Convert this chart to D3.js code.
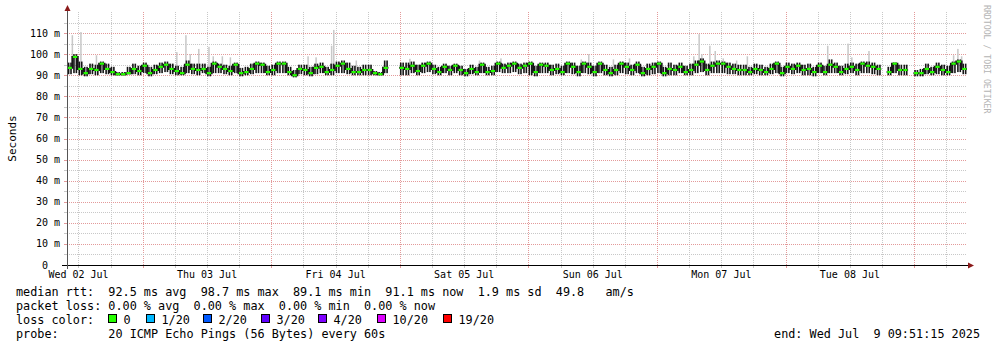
<!doctype html>
<html lang="en">
<head>
<meta charset="UTF-8" />
<title>smokeping median rtt</title>
<script src="https://cdn.jsdelivr.net/npm/d3@7/dist/d3.min.js"></script>
<style>
  body { margin: 0; background: #fff; }
  text { font-family: "DejaVu Sans Mono", monospace; white-space: pre; }
  .grid line { shape-rendering: crispEdges; }
</style>
</head>
<body>
<div id="graph"></div>
<script>
// time range of the graph (one value per hour, rrd style)
var startTime = new Date(Date.UTC(2025, 6, 2, 9, 51, 15));
var endTime = new Date(Date.UTC(2025, 6, 9, 9, 51, 15));

// median rtt in ms, hourly, null = no data
var median = [
  93.5, 98.7, 93, 91, 93, 92.5, 95.5, 93, 91.5, 90.5, 90.5, 91, 93, 92, 94.5, 91, 92.5, 94, 95, 93, 92, 91, 95, 93, 92.5, 93, 91, 95.5,
  94, 93, 92, 95, 91, 91.5, 93, 95.5, 95, 91.5, 92.5, 95.5, 95.5, 91.5, 90, 93, 92.5, 91, 93.5, 94, 91.5, 92.5, 94.5, 95.5, 93, 91.5, 91.5, 92.5,
  92.5, 91, 90.5, 93.5, null, null, 93.5, 93, 94.5, 92, 94.5, 95.5, 93, 91.5, 94, 92.5, 94.5, 92.5, 91, 93, 91.5, 95, 91.5, 92, 95.5, 93.5, 94.5, 95.5,
  93.5, 94.5, 95.5, 91.5, 95, 94.5, 92.5, 93, 91.5, 95.5, 94, 91.5, 95.5, 94, 91.5, 95.5, 92.5, 91, 92.5, 95.5, 94, 92.5, 95, 91, 93, 94, 95.5, 91,
  93, 92.5, 94, 91.5, 92.5, 95, 96.5, 92.5, 94.5, 95.5, 95.5, 94, 93, 92.5, 92.5, 91.5, 93, 92.5, 91.5, 93, 95.5, 91, 94, 93, 94.5, 92.5, 93, 91.5,
  94.5, 91.5, 95, 94, 91.5, 93, 94, 92.5, 95.5, 94.5, 94, 93, null, 91.5, 95.5, 92.5, 92.5, null, 91, 91, 93, 91.5, 94, 92.5, 91.5, 95.5, 96.5, 93
];

// dense (dark) smoke range per hour, ms
var smokeLo = [
  90.5, 91, 90, 89.5, 90.5, 90, 91, 90.5, 90, 90, 90, 90.5, 90.5, 90, 91, 89.5, 90.5, 91, 91.5, 90.5, 90, 90, 91, 90.5, 90, 91, 89.5, 91,
  91, 90.5, 90, 91, 89.5, 90, 90.5, 91, 91, 90, 90, 91, 91, 90, 89, 90.5, 90, 89.5, 90.5, 91, 90, 90, 91, 91, 90.5, 90, 90, 90,
  90, 90, 90, 91, null, null, 90, 90, 91, 90, 91, 91.5, 90.5, 90, 91, 90, 91, 90, 89.5, 90.5, 90, 91, 90, 90, 91.5, 91, 91, 91.5,
  90.5, 91, 90, 89.5, 91, 91, 90, 90.5, 90, 91, 90.5, 89.5, 91, 90.5, 89.5, 91, 90, 89.5, 90, 91, 90.5, 90, 91, 89.5, 90, 90.5, 91, 89.5,
  90, 90, 91, 90, 90, 91, 91.5, 90, 91, 91, 91, 90.5, 90.5, 90, 90, 90, 90.5, 90, 90, 90.5, 91, 89.5, 91, 90.5, 91, 90, 90, 89.5,
  91, 90, 91, 91, 90, 90.5, 91, 90, 91, 91, 90.5, 90, null, 90, 91, 90, 90, null, 89.5, 89.5, 90.5, 90, 90.5, 90, 90, 91, 91.5, 90.5
];
var smokeHi = [
  96, 100, 96.5, 94, 95.5, 95, 96.5, 95.5, 94, 91.5, 91.5, 94, 95.5, 94.5, 96, 94, 95, 96, 96.5, 95.5, 94.5, 94, 97, 95.5, 95.5, 95.5, 94, 96.5,
  95.5, 95, 94.5, 96, 93.5, 94, 95.5, 96.5, 96, 94.5, 95, 96.5, 96.5, 94, 92.5, 95, 95, 94, 95.5, 96, 94, 95.5, 96.5, 97, 96, 94.5, 94, 95,
  95, 92, 91.5, 97, null, null, 96, 96, 96.5, 95, 96, 96.5, 95, 94, 95.5, 94.5, 95.5, 94.5, 93, 95, 94, 96, 94, 94.5, 96.5, 95.5, 96, 96.5,
  95.5, 96, 96.5, 94.5, 96, 96, 95, 95.5, 94.5, 96.5, 96, 94.5, 96.5, 96, 94.5, 96.5, 95, 94, 95, 96.5, 96, 95, 96.5, 94, 95.5, 96, 96.5, 94,
  96, 95, 96, 94.5, 95.5, 97, 98, 95.5, 96.5, 97, 96.5, 96, 95.5, 95, 95, 94, 95.5, 95, 94, 95.5, 96.5, 94, 96, 95.5, 96, 95, 95.5, 94,
  96, 94.5, 97.5, 96, 94.5, 95.5, 96, 95.5, 96.5, 96.5, 96, 95, null, 94, 96, 95, 95, null, 92.5, 93, 95.5, 94, 96, 95, 94.5, 96.5, 97.5, 95.5
];

// outer smoke peaks: [hours after start, ms]
var spikes = [
  [1.0, 109], [2.6, 110.5], [5.5, 99.5], [20.5, 101], [22.2, 109], [23, 100], [24.6, 102.5], [26.5, 103.5], [27.3, 99],
  [29, 99], [30.5, 98.5], [45, 99], [46.5, 98.5], [49.4, 104], [49.8, 111.5], [54, 97], [64, 97.8], [68, 95.5], [77, 97],
  [81, 98], [96, 97.5], [97.4, 100], [102, 97.5], [105, 98], [117, 99], [118, 109.5], [118.5, 100], [120, 104], [121, 101.5],
  [122.5, 98], [125, 97], [127, 99], [142, 104], [145.8, 105], [146.5, 98.5], [149.7, 101.5], [165.5, 99.5], [166.3, 102.5], [167, 99]
];

var yTicks = [0, 10, 20, 30, 40, 50, 60, 70, 80, 90, 100, 110];
var yMax = 120;

var statLines = [
  "median rtt:  92.5 ms avg  98.7 ms max  89.1 ms min  91.1 ms now  1.9 ms sd  49.8   am/s",
  "packet loss: 0.00 % avg  0.00 % max  0.00 % min  0.00 % now"
];
var lossLabels = ["0", "1/20", "2/20", "3/20", "4/20", "10/20", "19/20"];
var lossColors = ["#26ff00", "#00b8ff", "#0059ff", "#5e00ff", "#7e00ff", "#dd00ff", "#ff0000"];
var lossBoxX = [108, 146, 203, 261, 318, 377, 443];
var probeText = "probe:       20 ICMP Echo Pings (56 Bytes) every 60s";
var endText = "end: Wed Jul  9 09:51:15 2025";

var width = 997, height = 347;
var plotLeft = 67, plotRight = 967, plotTop = 12, plotBottom = 265;

var svg = d3.select("#graph").append("svg")
  .attr("width", width)
  .attr("height", height);

var x = d3.scaleUtc().domain([startTime, endTime]).range([plotLeft, plotRight]);
var y = d3.scaleLinear().domain([0, yMax]).range([plotBottom, plotTop]);

var hourMs = 3600 * 1000;
function tAt(h) { return new Date(startTime.getTime() + h * hourMs); }

var minorCol = "#c8c8c8", majorCol = "#e39a9a";

// vertical grid: 6h minor, midnight major
var gridTimes = d3.utcHour.every(6).range(startTime, endTime);
var isMajor = d => d.getUTCHours() === 0;
var grid = svg.append("g").attr("class", "grid");
grid.selectAll("line.v")
  .data(gridTimes)
  .join("line")
  .attr("class", "v")
  .attr("x1", d => Math.round(x(d)) + 0.5)
  .attr("x2", d => Math.round(x(d)) + 0.5)
  .attr("y1", plotTop)
  .attr("y2", plotBottom)
  .attr("stroke", d => isMajor(d) ? majorCol : minorCol)
  .attr("stroke-dasharray", "1,1");
grid.selectAll("line.vt")
  .data(gridTimes)
  .join("line")
  .attr("class", "vt")
  .attr("x1", d => Math.round(x(d)) + 0.5)
  .attr("x2", d => Math.round(x(d)) + 0.5)
  .attr("y1", plotBottom)
  .attr("y2", plotBottom + 3)
  .attr("stroke", d => isMajor(d) ? majorCol : minorCol);

// horizontal grid: 5 ms minor, 10 ms major
var hGrid = d3.range(5, yMax, 5);
grid.selectAll("line.h")
  .data(hGrid)
  .join("line")
  .attr("class", "h")
  .attr("x1", plotLeft)
  .attr("x2", plotRight)
  .attr("y1", d => Math.round(y(d)) + 0.5)
  .attr("y2", d => Math.round(y(d)) + 0.5)
  .attr("stroke", d => d % 10 === 0 ? majorCol : minorCol)
  .attr("stroke-dasharray", "1,1");
grid.selectAll("line.ht")
  .data(hGrid)
  .join("line")
  .attr("class", "ht")
  .attr("x1", plotLeft - 3)
  .attr("x2", plotLeft)
  .attr("y1", d => Math.round(y(d)) + 0.5)
  .attr("y2", d => Math.round(y(d)) + 0.5)
  .attr("stroke", d => d % 10 === 0 ? majorCol : minorCol);

// smoke spikes (light grey)
function medianAt(h) { return median[Math.floor(h)]; }
svg.append("g").selectAll("rect")
  .data(spikes.filter(d => medianAt(d[0]) != null))
  .join("rect")
  .attr("x", d => x(tAt(d[0])) - 0.75)
  .attr("width", 1.5)
  .attr("y", d => y(d[1]))
  .attr("height", d => y(medianAt(d[0])) - y(d[1]))
  .attr("fill", "#c8c8c8");

// dense smoke: two dark strokes per hour
var smoke = [];
median.forEach(function(v, i) {
  if (v == null) return;
  smoke.push({ t: tAt(i + 0.3), lo: smokeLo[i], hi: smokeHi[i] });
  smoke.push({ t: tAt(i + 0.75), lo: smokeLo[i], hi: smokeHi[i] });
});
svg.append("g").selectAll("rect")
  .data(smoke)
  .join("rect")
  .attr("x", d => x(d.t) - 0.8)
  .attr("width", 1.6)
  .attr("y", d => y(d.hi))
  .attr("height", d => y(d.lo) - y(d.hi))
  .attr("fill", "#161616");

// median: black step line with green level segments on top
var stepPts = [];
median.forEach(function(v, i) {
  if (v == null) { stepPts.push({ t: tAt(i), v: null }); return; }
  stepPts.push({ t: tAt(i), v: v });
  stepPts.push({ t: tAt(i + 1), v: v });
});
var stepLine = d3.line()
  .defined(d => d.v != null)
  .x(d => x(d.t))
  .y(d => y(d.v));
svg.append("path")
  .attr("d", stepLine(stepPts))
  .attr("fill", "none")
  .attr("stroke", "#161616")
  .attr("stroke-width", 2);

svg.append("g").selectAll("line")
  .data(median.map((v, i) => ({ i: i, v: v })).filter(d => d.v != null))
  .join("line")
  .attr("x1", d => x(tAt(d.i)) + 0.5)
  .attr("x2", d => x(tAt(d.i + 1)) - 0.5)
  .attr("y1", d => y(d.v))
  .attr("y2", d => y(d.v))
  .attr("stroke", lossColors[0])
  .attr("stroke-width", 2.2);

// axes
svg.append("line")
  .attr("x1", plotLeft - 5).attr("x2", plotRight + 1)
  .attr("y1", plotBottom + 0.5).attr("y2", plotBottom + 0.5)
  .attr("stroke", "#000");
svg.append("path")
  .attr("d", "M" + (plotRight + 1) + "," + (plotBottom - 2.5) + "L" + (plotRight + 7) + "," + (plotBottom + 0.5) + "L" + (plotRight + 1) + "," + (plotBottom + 3.5) + "Z")
  .attr("fill", "#8b1a1a");
svg.append("line")
  .attr("x1", plotLeft + 0.5).attr("x2", plotLeft + 0.5)
  .attr("y1", plotBottom + 4).attr("y2", plotTop - 1)
  .attr("stroke", "#555");
svg.append("path")
  .attr("d", "M" + (plotLeft - 2.5) + "," + (plotTop - 1) + "L" + (plotLeft + 0.5) + "," + (plotTop - 7) + "L" + (plotLeft + 3.5) + "," + (plotTop - 1) + "Z")
  .attr("fill", "#8b1a1a");

// y tick labels
var yLab = svg.append("g").attr("font-size", "10px").attr("fill", "#000");
yLab.selectAll("text.num")
  .data(yTicks)
  .join("text")
  .attr("class", "num")
  .attr("x", 48)
  .attr("y", d => y(d) + 3.5)
  .attr("text-anchor", "end")
  .text(d => d);
yLab.selectAll("text.unit")
  .data(yTicks.filter(d => d > 0))
  .join("text")
  .attr("class", "unit")
  .attr("x", 54)
  .attr("y", d => y(d) + 3.5)
  .text("m");

// day labels at noon
var days = d3.utcDay.range(d3.utcDay.floor(startTime), endTime)
  .map(d => new Date(d.getTime() + 12 * hourMs))
  .filter(d => d > startTime && d < endTime);
svg.append("g").selectAll("text")
  .data(days)
  .join("text")
  .attr("x", d => x(d))
  .attr("y", 278)
  .attr("text-anchor", "middle")
  .attr("font-size", "10px")
  .text(d3.utcFormat("%a %d %b"));

// y axis title
svg.append("text")
  .attr("transform", "translate(16," + ((plotTop + plotBottom) / 2) + ") rotate(-90)")
  .attr("text-anchor", "middle")
  .attr("font-family", "DejaVu Sans, sans-serif")
  .attr("font-size", "11px")
  .text("Seconds");

// watermark
svg.append("text")
  .attr("transform", "translate(984,5) rotate(90)")
  .attr("font-size", "8.2px")
  .attr("fill", "#b4b4b4")
  .text("RRDTOOL / TOBI OETIKER");

// legend
var leg = svg.append("g").attr("font-size", "11.8px").attr("fill", "#000");
leg.selectAll("text.stat")
  .data(statLines)
  .join("text")
  .attr("class", "stat")
  .attr("x", 16)
  .attr("y", (d, i) => 295.5 + i * 14)
  .text(d => d);
leg.append("text").attr("x", 16).attr("y", 323.5).text("loss color:");
var items = leg.selectAll("g.item")
  .data(lossLabels)
  .join("g")
  .attr("class", "item");
items.append("rect")
  .attr("x", (d, i) => lossBoxX[i] + 0.5)
  .attr("y", 314.5)
  .attr("width", 8)
  .attr("height", 8)
  .attr("fill", (d, i) => lossColors[i])
  .attr("stroke", "#000");
items.append("text")
  .attr("x", (d, i) => lossBoxX[i] + 15.5)
  .attr("y", 323.5)
  .text(d => d);
leg.append("text").attr("x", 16).attr("y", 337.5).text(probeText);
leg.append("text").attr("x", 980).attr("y", 337.5).attr("text-anchor", "end").text(endText);
</script>
</body>
</html>
